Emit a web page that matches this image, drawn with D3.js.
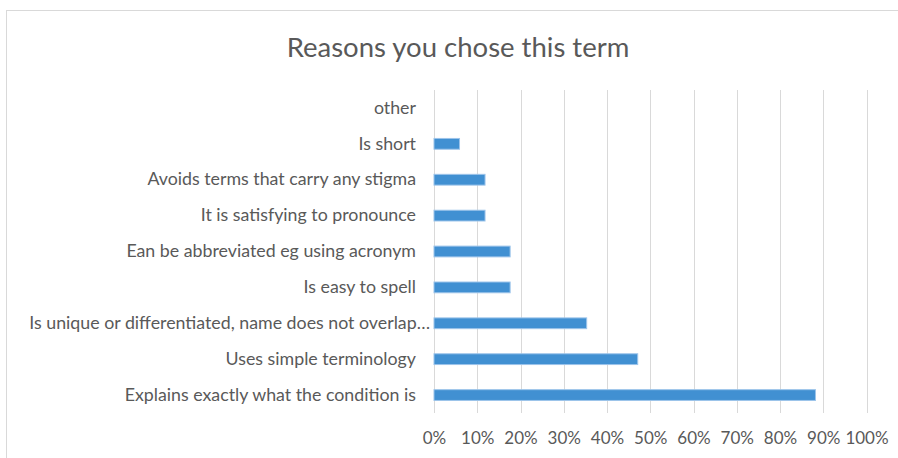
<!DOCTYPE html>
<html>
<head>
<meta charset="utf-8">
<script src="https://cdn.jsdelivr.net/npm/d3@7"></script>
<style>
  body { margin: 0; background: #fff; }
  text { font-family: Lato, "Open Sans", sans-serif; fill: #595959; }
</style>
</head>
<body>
<svg id="chart" width="898" height="458"></svg>
<script>
// categories listed top to bottom
var categories = [
  "other",
  "Is short",
  "Avoids terms that carry any stigma",
  "It is satisfying to pronounce",
  "Ean be abbreviated eg using acronym",
  "Is easy to spell",
  "Is unique or differentiated, name does not overlap\u2026",
  "Uses simple terminology",
  "Explains exactly what the condition is"
];
var values = [0, 0.059, 0.118, 0.118, 0.176, 0.176, 0.353, 0.471, 0.882];
var tickValues = [0, 0.1, 0.2, 0.3, 0.4, 0.5, 0.6, 0.7, 0.8, 0.9, 1.0];
var title = "Reasons you chose this term";

var svg = d3.select("#chart");

// outer chart border (cut off at right / bottom like the screenshot)
svg.append("rect")
    .attr("x", 6.5).attr("y", 10.5)
    .attr("width", 900).attr("height", 460)
    .attr("fill", "none")
    .attr("stroke", "#d9d9d9");

svg.append("text")
    .attr("x", 458).attr("y", 57)
    .attr("text-anchor", "middle")
    .style("font-size", "27.5px")
    .text(title);

var x = d3.scaleLinear().domain([0, 1]).range([434, 866.5]);
var y = d3.scaleBand().domain(categories).range([90, 413]).paddingInner(0.7).paddingOuter(0.35);

// gridlines
svg.append("g").selectAll("line")
    .data(tickValues)
    .enter().append("line")
    .attr("x1", function(d) { return Math.round(x(d)) + 0.5; })
    .attr("x2", function(d) { return Math.round(x(d)) + 0.5; })
    .attr("y1", 90).attr("y2", 413)
    .attr("stroke", "#d9d9d9")
    .attr("stroke-width", 1);

// bars
svg.append("g").selectAll("rect")
    .data(values)
    .enter().append("rect")
    .attr("x", x(0))
    .attr("y", function(d, i) { return y(categories[i]); })
    .attr("width", function(d) { return x(d) - x(0); })
    .attr("height", y.bandwidth())
    .attr("fill", function(d) { return d > 0 ? "#4190d2" : "none"; })
    .attr("stroke", function(d) { return d > 0 ? "#9cc4ea" : "none"; })
    .attr("stroke-width", 1);

// category labels
var yAxis = d3.axisLeft(y).tickSize(0).tickPadding(0);
var ya = svg.append("g")
    .attr("transform", "translate(416,0)")
    .call(yAxis);
ya.select(".domain").remove();
ya.selectAll("text")
    .style("font-size", "17.8px")
    .style("font-family", "Lato, 'Open Sans', sans-serif")
    .attr("fill", "#595959")
    .attr("x", function(d) { return d.slice(-1) === "\u2026" ? 14 : 0; });

// x tick labels
var xAxis = d3.axisBottom(x).tickValues(tickValues).tickFormat(d3.format(".0%")).tickSize(0).tickPadding(0);
var xa = svg.append("g")
    .attr("transform", "translate(0,432)")
    .call(xAxis);
xa.select(".domain").remove();
xa.selectAll("text")
    .style("font-size", "17px")
    .style("font-family", "Lato, 'Open Sans', sans-serif")
    .attr("fill", "#595959");
</script>
</body>
</html>
